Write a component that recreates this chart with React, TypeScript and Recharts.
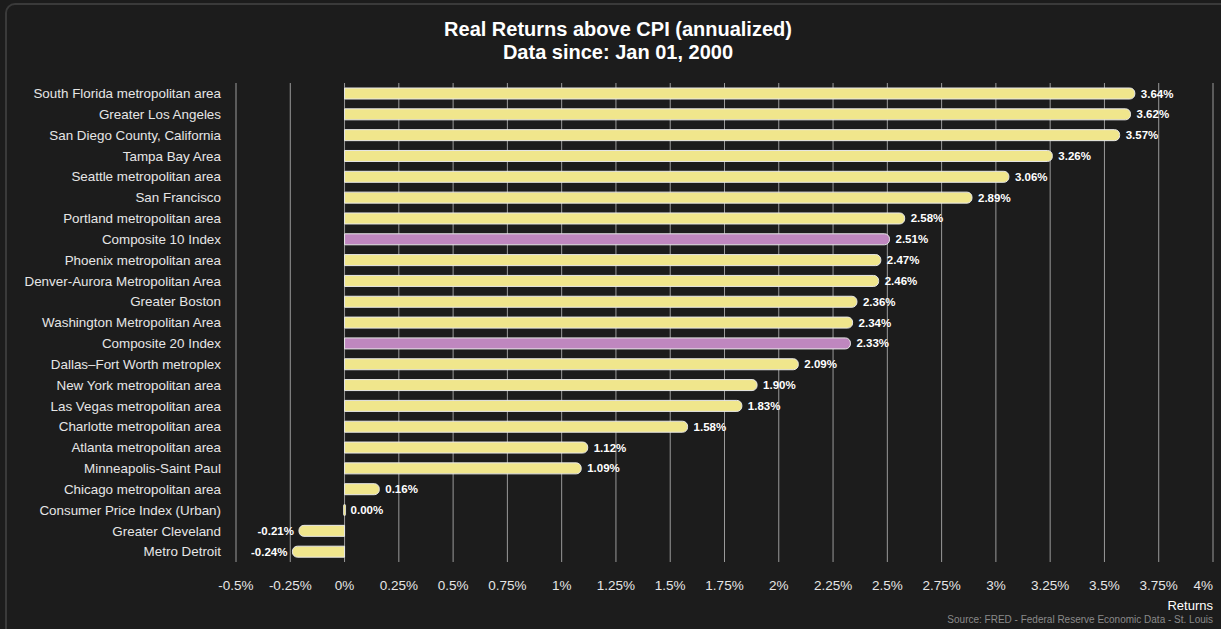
import React from "react";
import { Bar, BarChart, CartesianGrid, Cell, LabelList, XAxis, YAxis } from "recharts";

/* Real returns above CPI, annualized, since Jan 2000 */

const regions = [
  "South Florida metropolitan area",
  "Greater Los Angeles",
  "San Diego County, California",
  "Tampa Bay Area",
  "Seattle metropolitan area",
  "San Francisco",
  "Portland metropolitan area",
  "Composite 10 Index",
  "Phoenix metropolitan area",
  "Denver-Aurora Metropolitan Area",
  "Greater Boston",
  "Washington Metropolitan Area",
  "Composite 20 Index",
  "Dallas–Fort Worth metroplex",
  "New York metropolitan area",
  "Las Vegas metropolitan area",
  "Charlotte metropolitan area",
  "Atlanta metropolitan area",
  "Minneapolis-Saint Paul",
  "Chicago metropolitan area",
  "Consumer Price Index (Urban)",
  "Greater Cleveland",
  "Metro Detroit",
];

const returnsPct = [
  3.64, 3.62, 3.57, 3.26, 3.06, 2.89, 2.58, 2.51, 2.47, 2.46, 2.36, 2.34, 2.33, 2.09, 1.9, 1.83, 1.58,
  1.12, 1.09, 0.16, 0.0, -0.21, -0.24,
];

const composites = ["Composite 10 Index", "Composite 20 Index"];

const xTicks = [-0.5, -0.25, 0, 0.25, 0.5, 0.75, 1, 1.25, 1.5, 1.75, 2, 2.25, 2.5, 2.75, 3, 3.25, 3.5, 3.75, 4];

const BG = "#1c1c1c";
const BAR = "#f0e68c";
const BAR_COMPOSITE = "#bf87bf";
const FONT = "'Liberation Sans', Arial, Helvetica, sans-serif";

const data = regions.map((name, i) => ({ name, value: returnsPct[i] }));

function RoundBar(props: any) {
  const { x, y, width, height, fill } = props;
  const left = Math.min(x, x + width);
  const w = Math.abs(width);
  const r = Math.min(5, height / 2);
  if (w < 1) {
    // zero bar: just a tiny rounded sliver
    return <rect x={left - 1} y={y} width={2} height={height} rx={1} fill={fill} stroke="#e8e8e8" strokeWidth={0.8} />;
  }
  const rr = Math.min(r, w);
  let d: string;
  if (width >= 0) {
    d = `M${left},${y} H${left + w - rr} A${rr},${rr} 0 0 1 ${left + w},${y + rr} V${y + height - rr} A${rr},${rr} 0 0 1 ${left + w - rr},${y + height} H${left} Z`;
  } else {
    d = `M${left + w},${y} H${left + rr} A${rr},${rr} 0 0 0 ${left},${y + rr} V${y + height - rr} A${rr},${rr} 0 0 0 ${left + rr},${y + height} H${left + w} Z`;
  }
  return <path d={d} fill={fill} stroke="#e8e8e8" strokeWidth={1} />;
}

function ValueLabel(props: any) {
  const { x, y, width, height, value } = props;
  const neg = value < 0;
  const end = neg ? Math.min(x, x + width) - 5 : Math.max(x, x + width) + 6;
  return (
    <text
      x={end}
      y={y + height / 2}
      dy="0.35em"
      textAnchor={neg ? "end" : "start"}
      fill="#ffffff"
      fontSize={11.5}
      fontWeight="bold"
      fontFamily={FONT}
    >
      {value.toFixed(2)}%
    </text>
  );
}

function XTick(props: any) {
  const { x, y, payload } = props;
  const last = payload.value === xTicks[xTicks.length - 1];
  return (
    <text
      x={x}
      y={y}
      dy="0.71em"
      textAnchor={last ? "end" : "middle"}
      fill="#e6e6e6"
      fontSize={13.5}
      fontFamily={FONT}
    >
      {`${payload.value}%`}
    </text>
  );
}

export default function App() {
  return (
    <div style={{ position: "fixed", left: 0, top: 0, width: 1221, height: 629, background: BG, fontFamily: FONT, overflow: "hidden" }}>
      <div
        style={{
          position: "absolute",
          left: 5,
          top: 3,
          width: 1240,
          height: 660,
          border: "2px solid #3a3a3a",
          borderRadius: 10,
          boxSizing: "border-box",
        }}
      />
      <div
        style={{
          position: "absolute",
          left: 418,
          width: 400,
          top: 18,
          textAlign: "center",
          color: "#ffffff",
          fontSize: 20,
          fontWeight: "bold",
          lineHeight: "23px",
        }}
      >
        Real Returns above CPI (annualized)
        <br />
        Data since: Jan 01, 2000
      </div>
      <div style={{ position: "absolute" }}>
        <BarChart
          width={1221}
          height={629}
          data={data}
          layout="vertical"
          barSize={11}
          margin={{ top: 83, right: 8, bottom: 37, left: 11 }}
        >
          <CartesianGrid horizontal={false} vertical={true} stroke="#9a9a9a" strokeWidth={1} />
          <XAxis
            type="number"
            domain={[-0.5, 4]}
            ticks={xTicks}
            interval={0}
            axisLine={false}
            tickLine={false}
            tickSize={0}
            tickMargin={18}
            height={30}
            tick={<XTick />}
          />
          <YAxis
            type="category"
            dataKey="name"
            width={225}
            interval={0}
            axisLine={false}
            tickLine={false}
            tickSize={0}
            tickMargin={15}
            tick={{ fill: "#e6e6e6", fontSize: 13.4, fontFamily: FONT }}
          />
          <Bar dataKey="value" shape={<RoundBar />} isAnimationActive={false}>
            {data.map((d) => (
              <Cell key={d.name} fill={composites.includes(d.name) ? BAR_COMPOSITE : BAR} />
            ))}
            <LabelList dataKey="value" content={<ValueLabel />} />
          </Bar>
        </BarChart>
      </div>
      <div style={{ position: "absolute", right: 8, top: 598, color: "#ffffff", fontSize: 13 }}>Returns</div>
      <div style={{ position: "absolute", right: 8, top: 614, color: "#8a8a8a", fontSize: 10 }}>
        Source: FRED - Federal Reserve Economic Data - St. Louis
      </div>
    </div>
  );
}
